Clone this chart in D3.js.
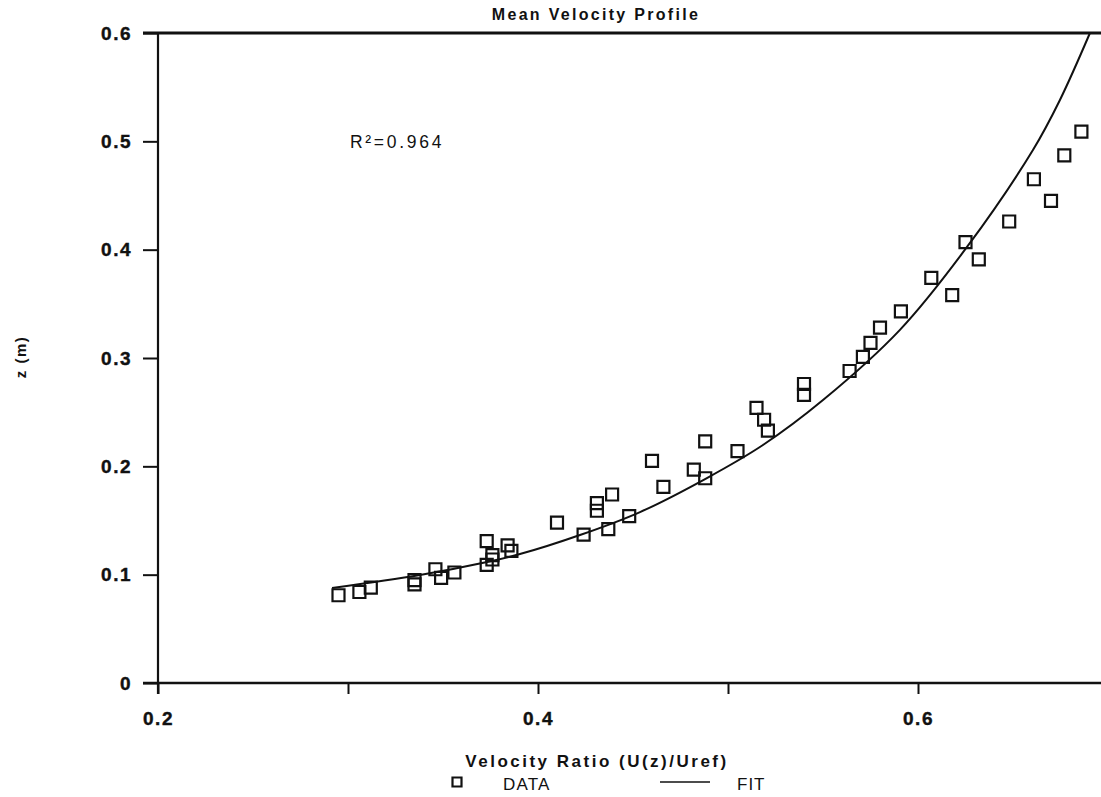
<!DOCTYPE html>
<html>
<head>
<meta charset="utf-8">
<script src="https://cdn.jsdelivr.net/npm/d3@7"></script>
<style>
  html, body { margin: 0; padding: 0; background: #fff; }
  svg { display: block; }
  text { font-family: "Liberation Sans", Arial, sans-serif; fill: #111; }
</style>
</head>
<body>
<svg id="chart" width="1101" height="797"></svg>
<script>
// ---- data ----
const dataU = [0.295,0.306,0.312,0.335,0.335,0.346,0.349,0.356,0.373,0.373,0.376,0.376,0.384,0.386,
               0.410,0.424,0.437,0.431,0.431,0.439,0.448,0.460,0.466,0.482,0.488,0.488,0.505,0.515,
               0.519,0.521,0.540,0.540,0.564,0.571,0.575,0.580,0.591,0.607,0.618,0.625,0.632,0.648,
               0.661,0.670,0.677,0.686];
const dataZ = [0.081,0.084,0.088,0.095,0.091,0.105,0.097,0.102,0.131,0.109,0.114,0.118,0.127,0.122,
               0.148,0.137,0.142,0.166,0.159,0.174,0.154,0.205,0.181,0.197,0.223,0.189,0.214,0.254,
               0.243,0.233,0.276,0.266,0.288,0.301,0.314,0.328,0.343,0.374,0.358,0.407,0.391,0.426,
               0.465,0.445,0.487,0.509];
const fitU = [0.2916,0.3379,0.3732,0.3905,0.4221,0.4537,0.4889,0.5184,0.5500,0.5905,0.6258,0.6605,0.6747,0.6905];
const fitZ = [0.0877,0.0997,0.1117,0.1190,0.1366,0.1578,0.1892,0.2197,0.2612,0.3260,0.4025,0.4920,0.5382,0.6000];
const yTicks = [0,0.1,0.2,0.3,0.4,0.5,0.6];
const xTicks = [0.2,0.3,0.4,0.5,0.6,0.7];
const xTickLabels = ["0.2","","0.4","","0.6",""];
const titleText = "Mean Velocity Profile";
const xLabel = "Velocity Ratio (U(z)/Uref)";
const yLabel = "z (m)";
const r2Text = "R\u00B2=0.964";
const legendNames = ["DATA","FIT"];

// ---- drawing ----
const svg = d3.select("#chart");
const x = d3.scaleLinear().domain([0.2, 0.7]).range([158, 1108]);
const y = d3.scaleLinear().domain([0, 0.6]).range([683, 33]);

// y axis
const yAxis = svg.append("g").attr("transform", `translate(${x(0.2)},0)`)
  .call(d3.axisLeft(y).tickValues(yTicks).tickSize(15).tickPadding(11)
    .tickFormat(d => d === 0 ? "0" : d3.format(".1f")(d)));
yAxis.select(".domain").remove();
yAxis.selectAll(".tick line").attr("stroke", "#111").attr("stroke-width", 2);
yAxis.selectAll(".tick text").attr("font-size", 19).attr("font-weight", "bold")
  .attr("letter-spacing", "1.5px").attr("stroke", "#111").attr("stroke-width", 0.4)
  .attr("font-family", "Liberation Sans, Arial, sans-serif");

// x axis
const xAxis = svg.append("g").attr("transform", `translate(0,${y(0)})`)
  .call(d3.axisBottom(x).tickValues(xTicks).tickSize(11).tickPadding(0)
    .tickFormat((d, i) => xTickLabels[i]));
xAxis.select(".domain").remove();
xAxis.selectAll(".tick line").attr("stroke", "#111").attr("stroke-width", 2);
xAxis.selectAll(".tick text").attr("font-size", 19).attr("font-weight", "bold")
  .attr("letter-spacing", "1.5px").attr("y", 42).attr("dy", 0)
  .attr("stroke", "#111").attr("stroke-width", 0.4)
  .attr("font-family", "Liberation Sans, Arial, sans-serif");

// frame lines
svg.append("line").attr("x1", x(0.2)).attr("x2", x(0.2)).attr("y1", y(0.6)).attr("y2", y(0) + 11)
  .attr("stroke", "#111").attr("stroke-width", 2.2);
svg.append("line").attr("x1", x(0.2) - 15).attr("x2", x(0.7)).attr("y1", y(0)).attr("y2", y(0))
  .attr("stroke", "#111").attr("stroke-width", 2.5);
svg.append("line").attr("x1", x(0.2) - 15).attr("x2", x(0.7)).attr("y1", y(0.6)).attr("y2", y(0.6))
  .attr("stroke", "#111").attr("stroke-width", 3);

// fit curve
const fitPts = fitU.map((u, i) => [u, fitZ[i]]);
svg.append("path").datum(fitPts)
  .attr("d", d3.line().x(d => x(d[0])).y(d => y(d[1])).curve(d3.curveCatmullRom.alpha(0.5)))
  .attr("fill", "none").attr("stroke", "#111").attr("stroke-width", 2);

// data squares
const pts = dataU.map((u, i) => [u, dataZ[i]]);
svg.append("g").selectAll("path").data(pts).join("path")
  .attr("transform", d => `translate(${x(d[0])},${y(d[1])})`)
  .attr("d", d3.symbol(d3.symbolSquare, 144))
  .attr("fill", "none").attr("stroke", "#111").attr("stroke-width", 2.2);

// title
svg.append("text").attr("x", 596).attr("y", 20).attr("text-anchor", "middle")
  .attr("font-size", 16).attr("font-weight", "bold").attr("letter-spacing", "2.3px")
  .text(titleText);

// R^2 annotation
svg.append("text").attr("x", 350).attr("y", 148)
  .attr("font-size", 17.5).attr("letter-spacing", "2.7px").text(r2Text);

// axis labels
svg.append("text").attr("x", 597).attr("y", 767).attr("text-anchor", "middle")
  .attr("font-size", 17).attr("font-weight", "bold").attr("letter-spacing", "2.5px")
  .text(xLabel);
svg.append("text").attr("transform", "translate(26,357) rotate(-90)").attr("text-anchor", "middle")
  .attr("font-size", 15).attr("font-weight", "bold").attr("letter-spacing", "1.5px")
  .text(yLabel);

// legend
const lg = svg.append("g");
lg.append("path").attr("transform", "translate(457,782)")
  .attr("d", d3.symbol(d3.symbolSquare, 81))
  .attr("fill", "none").attr("stroke", "#111").attr("stroke-width", 2.2);
lg.append("text").attr("x", 503).attr("y", 790).attr("font-size", 17)
  .attr("letter-spacing", "1.2px").text(legendNames[0]);
lg.append("line").attr("x1", 660).attr("x2", 710).attr("y1", 782).attr("y2", 782)
  .attr("stroke", "#111").attr("stroke-width", 1.6);
lg.append("text").attr("x", 737).attr("y", 790).attr("font-size", 17)
  .attr("letter-spacing", "1px").text(legendNames[1]);
</script>
</body>
</html>
